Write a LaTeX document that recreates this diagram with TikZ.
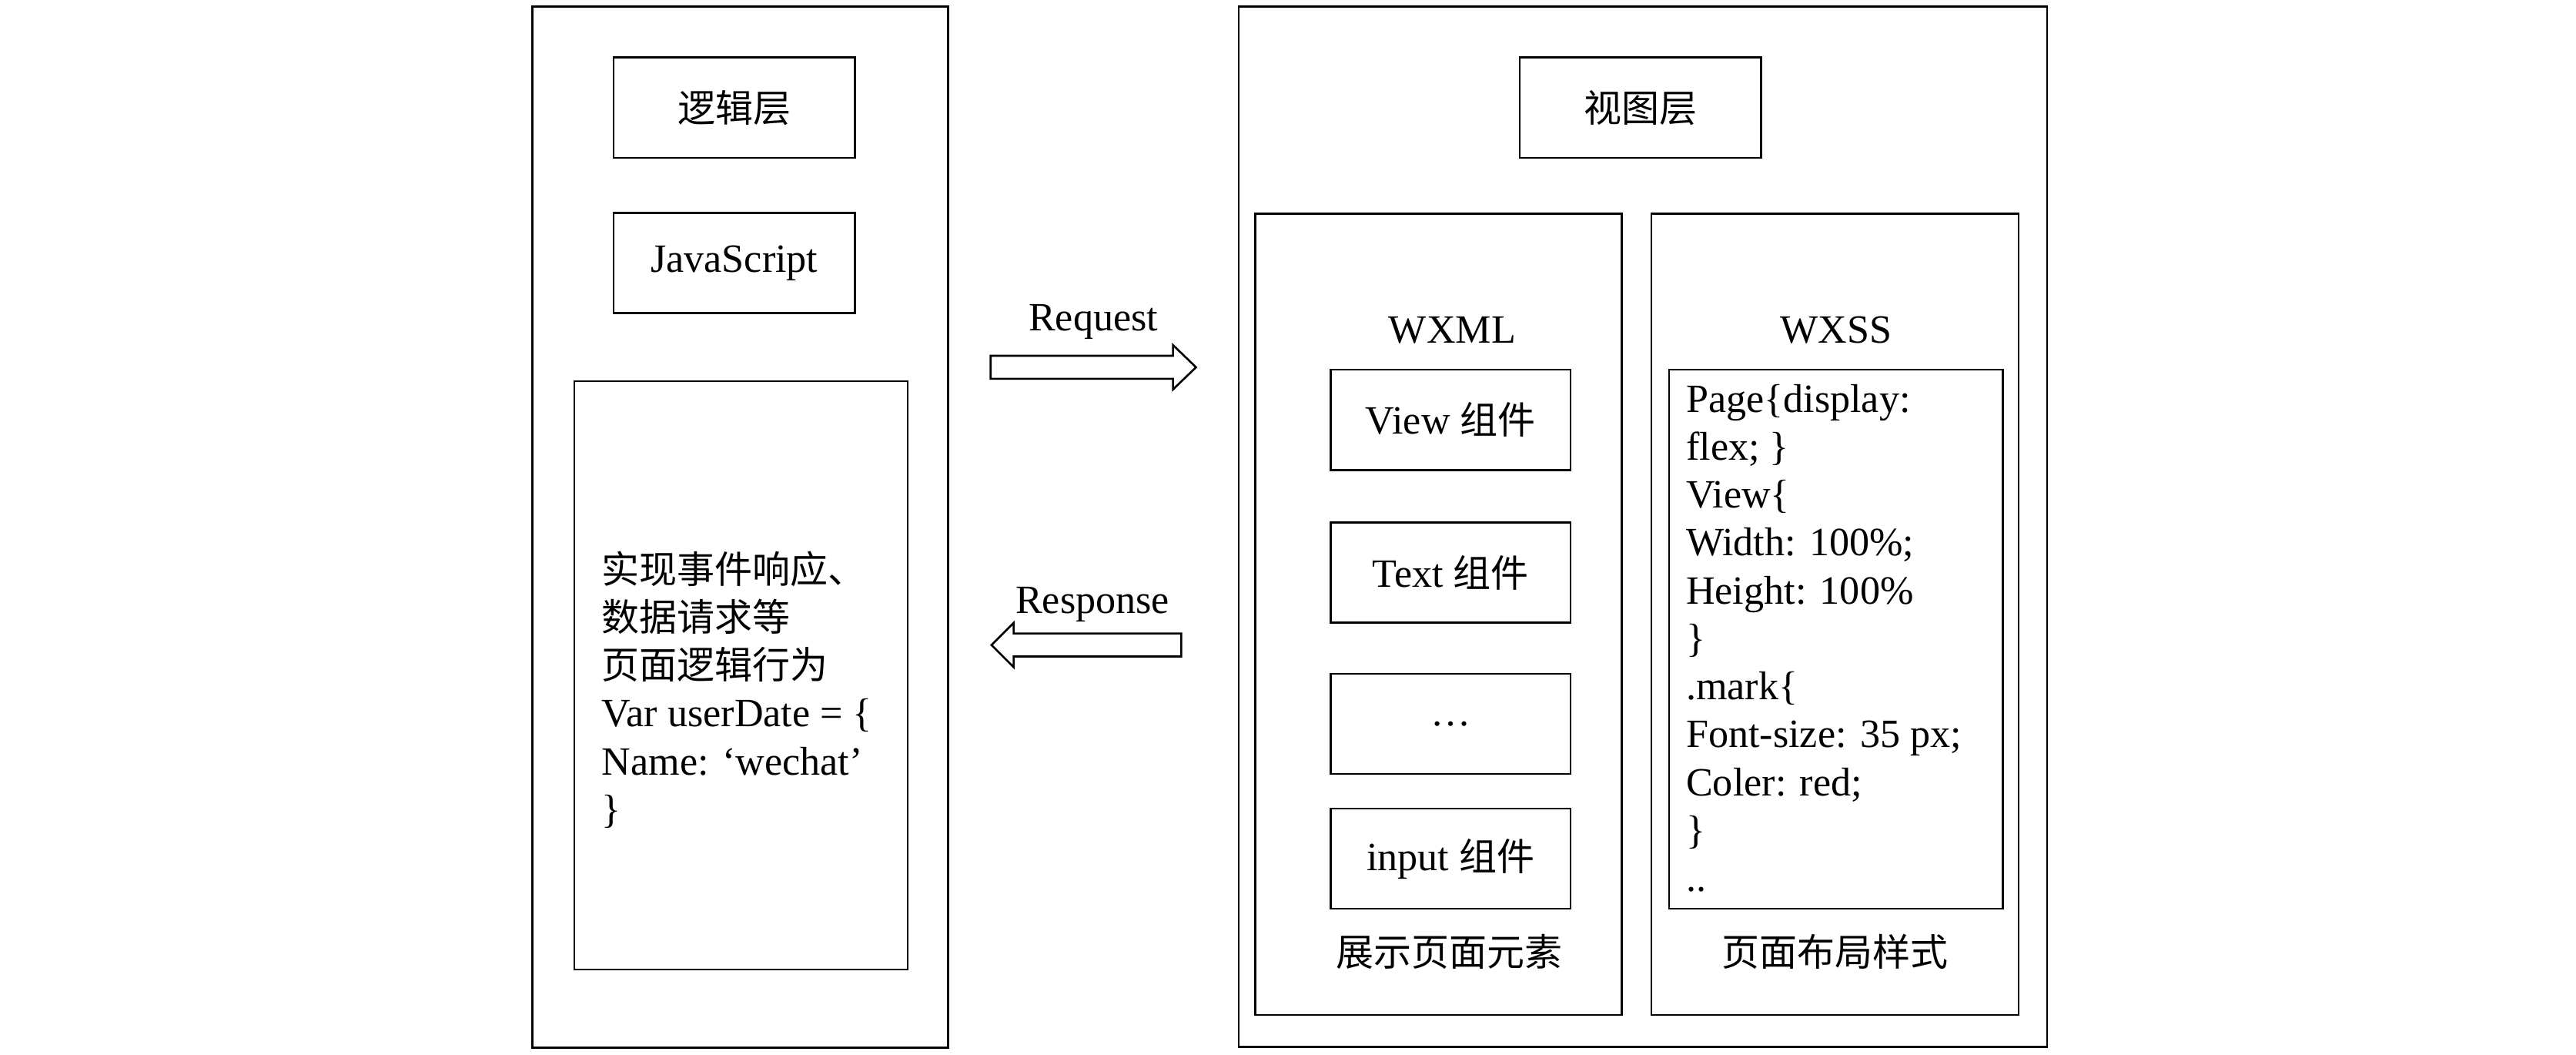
\documentclass[tikz,border=0pt]{standalone}
\usepackage{fontspec}
\setmainfont{Liberation Serif}
\newfontfamily\cjk{Noto Sans CJK SC}[Scale=0.94]

\tikzset{
  frame/.style={draw, line width=0.7pt, inner sep=0pt},
  tagbox/.style={frame, minimum width=2.94cm, minimum height=1.22cm},
  compbox/.style={frame, minimum width=2.92cm, minimum height=1.22cm},
  flow/.style={draw, line width=0.7pt, line join=miter},
  codetext/.style={align=left, inner sep=0pt, anchor=north west},
}

\begin{document}
\begin{tikzpicture}[font=\fontsize{13.9}{16.6}\selectfont]
\useasboundingbox (0,0) rectangle (31.36,12.84);

% logic layer
\node[frame, minimum width=5.06cm, minimum height=12.67cm] (logic) at (9.01,6.425) {};
\node[tagbox] (logictitle) at (8.94,11.53) {\cjk 逻辑层};
\node[tagbox] (js) at (8.94,9.64) {JavaScript};
\node[frame, minimum width=4.06cm, minimum height=7.16cm] (logicbody) at (9.02,4.62) {};
\node[codetext] (logictext) at (7.32,6.14) {{\cjk 实现事件响应、}\\{\cjk 数据请求等}\\{\cjk 页面逻辑行为}\\Var userDate = \{\\Name: ‘wechat’\\\}};

% request / response
\coordinate (reqtail) at (12.06,8.37);
\draw[flow] (reqtail) ++(0,0.14) -- ++(2.22,0) -- ++(0,0.13) -- ++(0.28,-0.27)
  -- ++(-0.28,-0.27) -- ++(0,0.13) -- ++(-2.22,0) -- cycle;
\node (reqlabel) at (13.31,8.92) {Request};
\coordinate (resptail) at (14.38,4.99);
\draw[flow] (resptail) ++(0,0.14) -- ++(-2.04,0) -- ++(0,0.13) -- ++(-0.27,-0.27)
  -- ++(0.27,-0.27) -- ++(0,0.13) -- ++(2.04,0) -- cycle;
\node (resplabel) at (13.30,5.48) {Response};

% view layer
\node[frame, minimum width=9.84cm, minimum height=12.66cm] (view) at (20.00,6.43) {};
\node[tagbox] (viewtitle) at (19.97,11.53) {\cjk 视图层};
\node[frame, minimum width=4.46cm, minimum height=9.75cm] (wxml) at (17.51,5.364) {};
\node[frame, minimum width=4.47cm, minimum height=9.75cm] (wxss) at (22.34,5.364) {};

% WXML side
\node (wxmltitle) at (17.68,8.82) {WXML};
\node[compbox] (viewcomp) at (17.66,7.73) {View {\cjk 组件}};
\node[compbox] (textcomp) at (17.66,5.87) {Text {\cjk 组件}};
\node[compbox] (morecomp) at (17.66,4.03) {…};
\node[compbox] (inputcomp) at (17.66,2.39) {input {\cjk 组件}};
\node (wxmlnote) at (17.64,1.26) {\cjk 展示页面元素};

% WXSS side
\node (wxsstitle) at (22.35,8.82) {WXSS};
\node[frame, minimum width=4.06cm, minimum height=6.56cm] (codebox) at (22.35,5.06) {};
\node[codetext] (wxsstext) at (20.52,8.17) {Page\{display:\\flex; \}\\View\{\\Width: 100\%;\\Height: 100\%\\\}\\.mark\{\\Font-size: 35 px;\\Coler: red;\\\}\\..};
\node (wxssnote) at (22.34,1.26) {\cjk 页面布局样式};
\end{tikzpicture}
\end{document}
